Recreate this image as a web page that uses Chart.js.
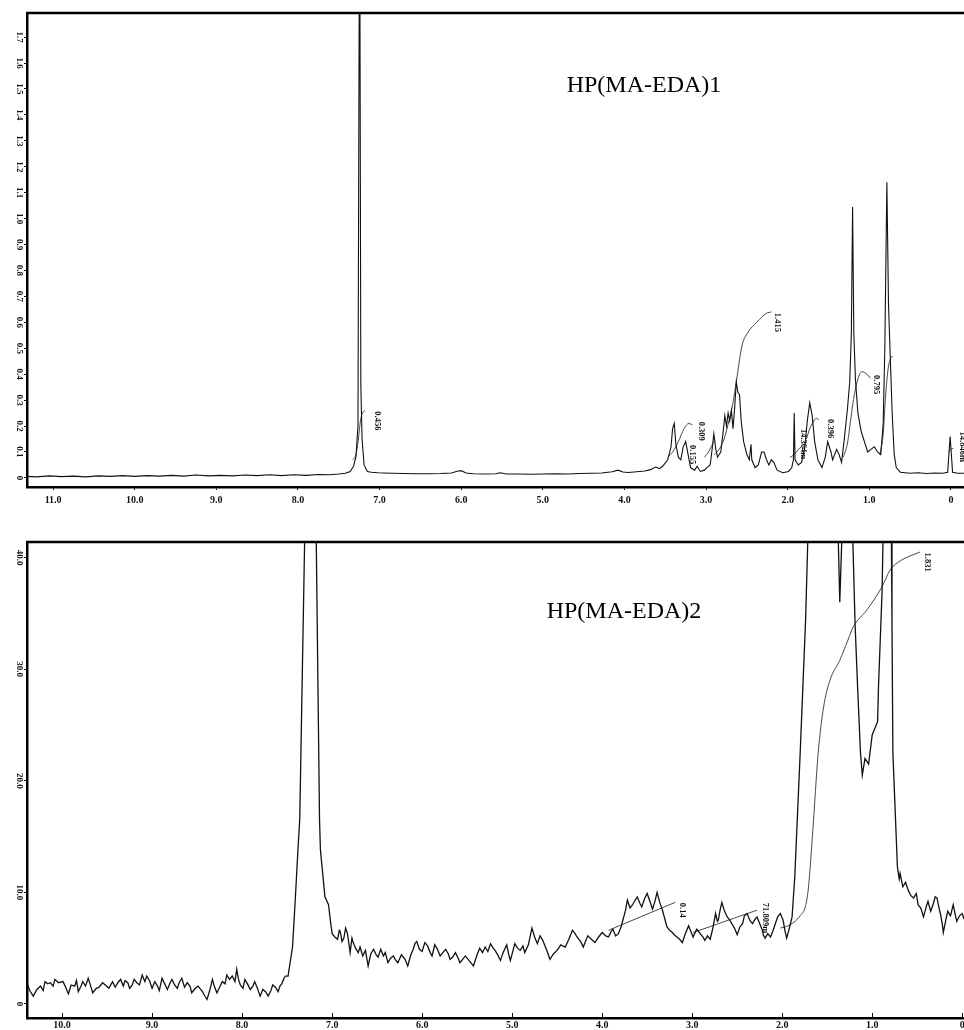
<!DOCTYPE html>
<html>
<head>
<meta charset="utf-8">
<script src="https://cdn.jsdelivr.net/npm/chart.js@4.4.1/dist/chart.umd.min.js"></script>
<style>
html, body { margin: 0; padding: 0; background: #fff; }
#wrap { position: relative; width: 964px; height: 1030px; overflow: hidden; }
.box { position: absolute; left: 0; width: 964px; height: 515px; }
</style>
</head>
<body>
<div id="wrap">
  <div class="box" style="top:0"><canvas id="top" width="964" height="515"></canvas></div>
  <div class="box" style="top:515px"><canvas id="bottom" width="964" height="515"></canvas></div>
</div>
<script>
// spectrum 1 : [ppm, intensity]
const topSpectrum = [
  [11.32,0.006],[11.2,0.004],[11.05,0.008],[10.9,0.005],[10.75,0.007],[10.6,0.004],[10.45,0.008],
  [10.3,0.006],[10.15,0.009],[10.0,0.006],[9.85,0.009],[9.7,0.007],[9.55,0.01],[9.4,0.007],
  [9.25,0.011],[9.1,0.008],[8.95,0.01],[8.8,0.008],[8.65,0.011],[8.5,0.009],[8.35,0.012],
  [8.2,0.009],[8.05,0.012],[7.9,0.01],[7.75,0.013],[7.62,0.012],[7.5,0.015],[7.42,0.018],
  [7.36,0.025],[7.32,0.045],[7.29,0.08],[7.265,0.2],[7.245,2.4],[7.23,0.36],[7.215,0.15],
  [7.19,0.05],[7.15,0.025],[7.1,0.022],[7.02,0.02],[6.95,0.019],[6.85,0.018],[6.7,0.017],
  [6.55,0.016],[6.4,0.016],[6.25,0.017],[6.12,0.019],[6.05,0.026],[6.0,0.028],[5.94,0.019],
  [5.85,0.016],[5.7,0.015],[5.58,0.016],[5.52,0.02],[5.45,0.015],[5.3,0.015],[5.15,0.014],
  [5.0,0.015],[4.85,0.016],[4.7,0.015],[4.55,0.017],[4.4,0.018],[4.28,0.019],[4.15,0.024],
  [4.08,0.03],[4.02,0.023],[3.95,0.021],[3.85,0.024],[3.75,0.027],[3.68,0.032],[3.62,0.042],
  [3.57,0.036],[3.53,0.046],[3.47,0.07],[3.43,0.12],[3.41,0.19],[3.39,0.21],[3.37,0.13],
  [3.34,0.08],[3.31,0.07],[3.28,0.12],[3.25,0.14],[3.22,0.09],[3.19,0.04],[3.14,0.03],
  [3.11,0.045],[3.07,0.025],[3.02,0.03],[2.99,0.04],[2.95,0.05],[2.93,0.1],[2.905,0.17],
  [2.88,0.11],[2.86,0.08],[2.82,0.1],[2.79,0.18],[2.77,0.24],[2.75,0.2],[2.73,0.25],
  [2.71,0.22],[2.69,0.26],[2.67,0.19],[2.65,0.27],[2.63,0.37],[2.61,0.33],[2.59,0.32],
  [2.57,0.22],[2.54,0.14],[2.5,0.09],[2.47,0.07],[2.45,0.13],[2.44,0.07],[2.4,0.04],
  [2.36,0.05],[2.32,0.1],[2.29,0.1],[2.26,0.07],[2.23,0.05],[2.2,0.07],[2.17,0.06],
  [2.13,0.03],[2.06,0.02],[1.99,0.025],[1.95,0.04],[1.93,0.07],[1.92,0.25],[1.91,0.07],
  [1.87,0.05],[1.83,0.06],[1.79,0.12],[1.76,0.22],[1.73,0.29],[1.7,0.24],[1.67,0.14],
  [1.63,0.07],[1.58,0.04],[1.54,0.08],[1.51,0.14],[1.47,0.1],[1.45,0.07],[1.4,0.11],
  [1.37,0.09],[1.34,0.06],[1.31,0.14],[1.27,0.26],[1.24,0.37],[1.22,0.56],[1.205,1.045],
  [1.19,0.56],[1.17,0.38],[1.14,0.25],[1.1,0.18],[1.06,0.14],[1.02,0.1],[0.98,0.11],
  [0.94,0.12],[0.9,0.1],[0.86,0.09],[0.83,0.21],[0.81,0.5],[0.785,1.14],[0.765,0.67],
  [0.745,0.48],[0.72,0.25],[0.695,0.09],[0.67,0.04],[0.62,0.022],[0.5,0.018],[0.4,0.02],
  [0.3,0.017],[0.2,0.019],[0.1,0.018],[0.04,0.022],[0.01,0.16],[-0.02,0.022],[-0.08,0.018],
  [-0.16,0.018]
];

// integral traces of spectrum 1
const topIntegrals = [
  [[7.33,0.07],[7.29,0.09],[7.26,0.15],[7.235,0.22],[7.21,0.25],[7.18,0.26]],
  [[3.47,0.08],[3.41,0.1],[3.34,0.14],[3.27,0.19],[3.21,0.21],[3.17,0.205]],
  [[3.02,0.08],[2.97,0.1],[2.93,0.125],[2.9,0.14]],
  [[2.9,0.09],[2.84,0.11],[2.78,0.15],[2.72,0.22],[2.67,0.29],[2.63,0.37],[2.56,0.51],
   [2.49,0.56],[2.38,0.6],[2.26,0.635],[2.2,0.64]],
  [[1.97,0.08],[1.92,0.09],[1.87,0.11],[1.83,0.12]],
  [[1.77,0.15],[1.73,0.19],[1.69,0.215],[1.65,0.23],[1.62,0.225]],
  [[1.32,0.08],[1.27,0.13],[1.23,0.22],[1.2,0.29],[1.15,0.37],[1.09,0.41],[1.03,0.4],[0.99,0.385]],
  [[0.87,0.09],[0.83,0.17],[0.8,0.32],[0.77,0.42],[0.74,0.46],[0.71,0.47]],
  [[0.03,0.1],[0.0,0.11],[-0.03,0.115]]
];
const topIntLabels = ['0.456','0.309','0.155','1.415','14.364m','0.396','0.795','14.846m'];
const topIntLabelShift = [7.03, 3.06, 3.17, 2.13, 1.81, 1.48, 0.91, -0.135];
const topIntLabelValue = [0.22, 0.18, 0.09, 0.6, 0.13, 0.19, 0.36, 0.12];

const topXTicks = [11,10,9,8,7,6,5,4,3,2,1,0];
const topXLabels = ['11.0','10.0','9.0','8.0','7.0','6.0','5.0','4.0','3.0','2.0','1.0','0'];
const topYTicks = [0,0.1,0.2,0.3,0.4,0.5,0.6,0.7,0.8,0.9,1.0,1.1,1.2,1.3,1.4,1.5,1.6,1.7];
const topYLabels = ['0','0.1','0.2','0.3','0.4','0.5','0.6','0.7','0.8','0.9','1.0','1.1','1.2','1.3','1.4','1.5','1.6','1.7'];

// spectrum 2 : [ppm, intensity]
const bottomSpectrum = [
  [10.39,1.9],[10.36,1.2],[10.32,0.7],[10.28,1.3],[10.24,1.6],[10.21,1.2],[10.19,2.0],[10.16,1.8],
  [10.13,1.9],[10.1,1.6],[10.08,2.2],[10.04,1.9],[9.99,2.0],[9.96,1.5],[9.93,0.9],[9.9,1.7],
  [9.86,1.6],[9.84,2.1],[9.82,1.1],[9.79,1.6],[9.77,2.0],[9.74,1.6],[9.71,2.3],[9.69,1.8],
  [9.66,1.0],[9.62,1.4],[9.59,1.5],[9.55,1.9],[9.52,1.7],[9.48,1.4],[9.44,2.0],[9.41,1.5],
  [9.38,1.9],[9.35,2.2],[9.32,1.6],[9.3,2.1],[9.27,1.9],[9.25,1.4],[9.22,1.7],[9.2,2.2],
  [9.17,1.9],[9.14,1.7],[9.11,2.6],[9.08,2.0],[9.06,2.5],[9.03,2.1],[9.0,1.4],[8.97,2.0],
  [8.94,1.6],[8.92,1.2],[8.89,2.3],[8.86,1.8],[8.83,1.3],[8.8,1.9],[8.78,2.2],[8.75,1.7],
  [8.72,1.4],[8.7,1.9],[8.67,2.3],[8.64,1.5],[8.61,1.9],[8.58,1.6],[8.56,1.0],[8.52,1.4],
  [8.49,1.6],[8.44,1.1],[8.42,0.8],[8.39,0.4],[8.36,1.2],[8.33,2.2],[8.31,1.6],[8.28,1.0],
  [8.25,1.5],[8.22,2.0],[8.19,1.8],[8.17,2.6],[8.14,2.2],[8.11,2.5],[8.08,2.0],[8.06,3.1],
  [8.04,2.2],[8.02,1.7],[7.99,1.4],[7.97,2.2],[7.94,1.8],[7.91,1.3],[7.88,1.6],[7.86,2.0],
  [7.83,1.4],[7.8,0.7],[7.77,1.3],[7.74,1.1],[7.71,0.7],[7.68,1.2],[7.66,1.7],[7.63,1.5],
  [7.6,1.1],[7.58,1.6],[7.56,1.8],[7.54,2.2],[7.52,2.5],[7.49,2.5],[7.44,5.1],[7.41,9.3],
  [7.38,13.8],[7.36,16.5],[7.3,44],[7.26,80],[7.18,44],[7.14,16.5],[7.13,13.8],[7.08,9.6],
  [7.04,8.9],[7.02,7.5],[7.0,6.3],[6.97,6.0],[6.94,5.8],[6.92,6.6],[6.91,6.5],[6.89,5.6],
  [6.87,5.9],[6.85,6.8],[6.83,6.3],[6.81,5.2],[6.8,4.6],[6.78,5.9],[6.77,5.6],[6.74,5.0],
  [6.71,4.6],[6.69,5.1],[6.66,4.3],[6.63,4.8],[6.6,3.4],[6.57,4.5],[6.54,4.9],[6.51,4.4],
  [6.49,4.2],[6.46,4.9],[6.43,4.3],[6.41,4.6],[6.38,3.7],[6.35,4.1],[6.32,4.3],[6.3,4.0],
  [6.27,3.7],[6.23,4.4],[6.19,4.0],[6.16,3.4],[6.13,4.3],[6.1,4.9],[6.08,5.4],[6.06,5.6],
  [6.03,4.9],[6.0,4.7],[5.97,5.5],[5.94,5.2],[5.91,4.6],[5.89,4.3],[5.86,5.3],[5.83,4.9],
  [5.8,4.3],[5.77,4.6],[5.74,4.9],[5.71,4.5],[5.69,4.0],[5.66,4.2],[5.63,4.6],[5.6,4.1],
  [5.58,3.7],[5.55,4.0],[5.52,4.3],[5.48,3.9],[5.43,3.4],[5.39,4.4],[5.36,5.0],[5.33,4.6],
  [5.3,5.1],[5.27,4.7],[5.24,5.4],[5.21,5.0],[5.19,4.8],[5.16,4.4],[5.13,3.9],[5.1,4.6],
  [5.06,5.3],[5.04,4.5],[5.02,3.9],[4.99,4.8],[4.97,5.4],[4.94,5.0],[4.91,4.8],[4.88,5.2],
  [4.86,4.6],[4.82,5.3],[4.78,6.8],[4.75,6.0],[4.72,5.4],[4.69,6.1],[4.66,5.7],[4.62,4.9],
  [4.58,4.0],[4.54,4.5],[4.5,4.8],[4.46,5.3],[4.41,5.1],[4.37,5.8],[4.33,6.6],[4.3,6.3],
  [4.28,6.0],[4.24,5.6],[4.21,5.1],[4.18,5.7],[4.16,6.1],[4.12,5.8],[4.08,5.5],[4.04,6.0],
  [4.0,6.4],[3.96,6.1],[3.93,6.0],[3.9,6.5],[3.88,6.7],[3.85,6.1],[3.82,6.3],[3.79,6.9],
  [3.77,7.5],[3.74,8.4],[3.72,9.3],[3.69,8.6],[3.67,8.8],[3.64,9.2],[3.61,9.6],[3.58,9.0],
  [3.56,8.7],[3.53,9.4],[3.5,9.9],[3.47,9.2],[3.44,8.5],[3.41,9.3],[3.39,10.0],[3.36,9.1],
  [3.33,8.4],[3.3,7.5],[3.28,6.9],[3.25,6.6],[3.22,6.4],[3.2,6.2],[3.17,6.0],[3.14,5.8],
  [3.11,5.5],[3.08,6.2],[3.04,7.0],[3.02,6.6],[2.99,6.0],[2.95,6.7],[2.91,6.3],[2.88,6.0],
  [2.86,5.7],[2.83,6.1],[2.8,5.8],[2.77,6.8],[2.74,8.1],[2.72,7.4],[2.71,7.5],[2.69,8.4],
  [2.67,9.1],[2.64,8.3],[2.61,7.8],[2.58,7.5],[2.56,7.2],[2.53,6.8],[2.5,6.2],[2.47,6.9],
  [2.44,7.2],[2.42,7.9],[2.39,8.1],[2.36,7.5],[2.33,7.2],[2.3,7.6],[2.28,7.8],[2.25,7.2],
  [2.22,6.6],[2.21,6.2],[2.19,5.9],[2.16,6.3],[2.13,6.0],[2.1,6.6],[2.08,7.1],[2.05,7.8],
  [2.02,8.1],[2.0,7.7],[1.99,7.5],[1.97,6.6],[1.95,5.9],[1.92,6.8],[1.89,7.8],[1.86,11.4],
  [1.8,22.5],[1.74,34.4],[1.7,46],[1.6,70],[1.45,70],[1.39,46],[1.36,36],[1.32,46],
  [1.27,70],[1.23,46],[1.19,34],[1.16,28],[1.13,22.5],[1.11,20.5],[1.08,22],[1.04,21.5],
  [1.0,24.1],[0.94,25.3],[0.93,28.4],[0.89,37],[0.87,46],[0.83,80],[0.79,46],[0.78,34],
  [0.77,22.5],[0.72,12.3],[0.7,11.2],[0.69,11.7],[0.66,10.5],[0.63,10.9],[0.6,10.2],
  [0.57,9.7],[0.54,9.5],[0.51,9.9],[0.49,8.9],[0.46,8.6],[0.43,7.8],[0.4,8.7],[0.38,9.2],
  [0.35,8.3],[0.32,9.0],[0.3,9.6],[0.28,9.5],[0.26,8.7],[0.24,8.0],[0.22,7.1],[0.21,6.4],
  [0.18,7.6],[0.16,8.3],[0.13,7.9],[0.1,8.9],[0.08,8.1],[0.06,7.4],[0.03,7.9],[0.0,8.1],
  [-0.02,7.6]
];

const bottomIntegrals = [
  [[3.93,6.6],[3.19,9.1]],
  [[2.99,6.4],[2.28,8.4]],
  [[2.02,6.8],[1.91,7.1],[1.8,7.9],[1.74,8.8],[1.71,10.3],[1.66,15.5],[1.6,22.5],[1.54,26.6],
   [1.47,29],[1.36,30.8],[1.27,32.6],[1.21,33.8],[1.06,35.3],[0.89,37.4],[0.8,38.9],[0.69,39.7],[0.47,40.5]]
];
const bottomIntLabels = ['0.14','71.809m','1.831'];
const bottomIntLabelShift = [3.11, 2.19, 0.39];
const bottomIntLabelValue = [8.4, 7.7, 39.6];

const bottomXTicks = [10,9,8,7,6,5,4,3,2,1,0];
const bottomXLabels = ['10.0','9.0','8.0','7.0','6.0','5.0','4.0','3.0','2.0','1.0','0'];
const bottomYTicks = [0,10,20,30,40];
const bottomYLabels = ['0','10.0','20.0','30.0','40.0'];

const SERIF = '"Liberation Serif", "DejaVu Serif", serif';

function rotText(ctx, text, x, y) {
  ctx.save();
  ctx.translate(x, y);
  ctx.rotate(Math.PI / 2);
  ctx.fillText(text, 0, 0);
  ctx.restore();
}

function extras(o) {
  return {
    id: 'nmrExtras',
    afterDraw(chart) {
      const ctx = chart.ctx, a = chart.chartArea, xs = chart.scales.x, ys = chart.scales.y;
      ctx.save();
      ctx.strokeStyle = '#000';
      ctx.lineWidth = 2.5;
      ctx.beginPath();
      ctx.moveTo(a.left - 1, a.top);
      ctx.lineTo(chart.width, a.top);
      ctx.stroke();

      // inward tick marks on the shift axis
      if (o.tickIn) {
        ctx.lineWidth = 1;
        ctx.beginPath();
        o.xTicks.forEach(v => {
          const px = Math.round(xs.getPixelForValue(v)) + 0.5;
          ctx.moveTo(px, a.bottom);
          ctx.lineTo(px, a.bottom - 5);
        });
        ctx.stroke();
      }

      ctx.fillStyle = '#111';
      ctx.textAlign = 'center';
      ctx.textBaseline = 'middle';
      ctx.font = 'bold 9px ' + SERIF;
      o.yTicks.forEach((v, i) => rotText(ctx, o.yLabels[i], 19, ys.getPixelForValue(v)));

      ctx.font = 'bold 8.5px ' + SERIF;
      o.intLabels.forEach((t, i) =>
        rotText(ctx, t, xs.getPixelForValue(o.intShift[i]), ys.getPixelForValue(o.intValue[i])));

      ctx.font = '24px ' + SERIF;
      ctx.fillStyle = '#000';
      ctx.fillText(o.title, o.titleX, o.titleY);
      ctx.restore();
    }
  };
}

function nmrChart(id, o) {
  const pts = arr => arr.map(p => ({ x: p[0], y: p[1] }));
  const datasets = [{
    data: pts(o.spectrum),
    borderColor: '#111',
    borderWidth: o.lineWidth,
    pointRadius: 0,
    showLine: true,
    tension: 0
  }];
  o.integrals.forEach(seg => datasets.push({
    data: pts(seg),
    borderColor: '#333',
    borderWidth: 0.9,
    pointRadius: 0,
    showLine: true,
    cubicInterpolationMode: 'monotone'
  }));

  return new Chart(document.getElementById(id), {
    type: 'scatter',
    data: { datasets },
    options: {
      responsive: false,
      animation: false,
      devicePixelRatio: 1,
      events: [],
      layout: { padding: { top: o.padTop, left: 0, right: 0, bottom: 0 } },
      plugins: { legend: { display: false }, tooltip: { enabled: false } },
      scales: {
        x: {
          type: 'linear',
          reverse: true,
          min: o.xMin,
          max: o.xMax,
          afterBuildTicks: s => { s.ticks = o.xTicks.map(v => ({ value: v })); },
          afterFit: s => { s.height = o.xAxisHeight; s.paddingLeft = 0; s.paddingRight = 0; },
          ticks: {
            autoSkip: false, maxRotation: 0, minRotation: 0, padding: o.xPad,
            color: '#111',
            font: { family: SERIF, weight: 'bold', size: 10 },
            callback: (v, i) => o.xLabels[i]
          },
          grid: { display: true, drawOnChartArea: false, drawTicks: !o.tickIn, tickLength: 3, color: '#000' },
          border: { display: true, color: '#000', width: 2.5 }
        },
        y: {
          type: 'linear',
          min: o.yMin,
          max: o.yMax,
          afterBuildTicks: s => { s.ticks = o.yTicks.map(v => ({ value: v })); },
          afterFit: s => { s.width = 27; },
          ticks: { display: false },
          grid: { display: true, drawOnChartArea: false, drawTicks: true, tickLength: 3, color: '#000' },
          border: { display: true, color: '#000', width: 2.5 }
        }
      }
    },
    plugins: [extras(o)]
  });
}

nmrChart('top', {
  spectrum: topSpectrum, integrals: topIntegrals, lineWidth: 1.1,
  intLabels: topIntLabels, intShift: topIntLabelShift, intValue: topIntLabelValue,
  xTicks: topXTicks, xLabels: topXLabels, yTicks: topYTicks, yLabels: topYLabels,
  xMin: -0.16, xMax: 11.32, yMin: -0.035, yMax: 1.793,
  padTop: 13, xAxisHeight: 28, xPad: 4, tickIn: false,
  title: 'HP(MA-EDA)1', titleX: 644, titleY: 86
});

nmrChart('bottom', {
  spectrum: bottomSpectrum, integrals: bottomIntegrals, lineWidth: 1.3,
  intLabels: bottomIntLabels, intShift: bottomIntLabelShift, intValue: bottomIntLabelValue,
  xTicks: bottomXTicks, xLabels: bottomXLabels, yTicks: bottomYTicks, yLabels: bottomYLabels,
  xMin: -0.02, xMax: 10.39, yMin: -1.26, yMax: 41.4,
  padTop: 27, xAxisHeight: 12, xPad: 1, tickIn: true,
  title: 'HP(MA-EDA)2', titleX: 624, titleY: 612 - 515
});
</script>
</body>
</html>
